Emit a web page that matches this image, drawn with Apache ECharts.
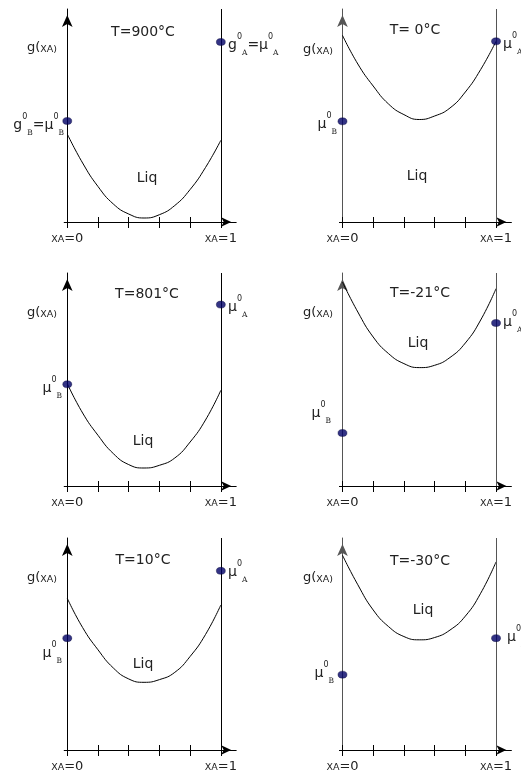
<!DOCTYPE html>
<html>
<head>
<meta charset="utf-8">
<script src="https://cdn.jsdelivr.net/npm/echarts@6/dist/echarts.min.js"></script>
<style>
    html, body { margin: 0; padding: 0; background: #fff; }
    #main { width: 521px; height: 773px; }
</style>
</head>
<body>
<div id="main"></div>
<script>
    // composition xA and g(xA), in pixels above the x axis
    var xA = [0, 0.1, 0.2, 0.3, 0.4, 0.5, 0.6, 0.7, 0.8, 0.9, 1];
    var gT900 = [88, 59, 35.5, 18, 8, 4, 7.3, 16.5, 32.5, 54.5, 81.7];
    var gT0 = [186.7, 158, 136, 118, 107.4, 102.5, 106, 114, 130, 152.5, 180.7];
    var gT801 = [102.4, 73, 50.7, 32.4, 21.4, 18, 20.7, 28, 44, 66, 95.7];
    var gTm21 = [204, 174, 149, 132.4, 122.4, 118.4, 120.7, 128.5, 143, 166, 197.4];
    var gT10 = [152.4, 123, 100.7, 82.4, 71.4, 68, 70.7, 78, 94, 116, 145.7];
    var gTm30 = [195.7, 166, 140.7, 124, 114, 110.7, 113, 120.5, 134.5, 157.5, 189];
    var curves = [gT900, gT0, gT801, gTm21, gT10, gTm30];

    var temps = ['T=900°C', 'T= 0°C', 'T=801°C', 'T=-21°C', 'T=10°C', 'T=-30°C'];
    // pure component values at xA=0 (B) and xA=1 (A)
    var muB = [101, 100.7, 101.7, 53, 112.4, 75.7];
    var muA = [180, 180.7, 181.4, 163, 180, 112.4];
    var tickVals = [0, 0.2, 0.4, 0.6, 0.8, 1];
    var endLabels = [0, 1];

    var FONT = 'DejaVu Sans';
    var SERIF = 'DejaVu Serif';
    var colLeft = [64.2, 339.4];
    var colWidth = 172;
    var rowTop = [9, 273, 538];
    var rowHeight = 213;
    var vLine = ['#000', '#555'];

    var richG = {
        t: {fontSize: 14, fontFamily: FONT, fill: '#222'},
        m: {fontSize: 13, fontFamily: FONT, fill: '#222', verticalAlign: 'bottom'},
        s: {fontSize: 9.5, fontFamily: FONT, fill: '#222', verticalAlign: 'bottom'},
        n: {fontSize: 14, fontFamily: FONT, fill: '#222', lineHeight: 24, verticalAlign: 'middle'},
        sp: {fontSize: 8, fontFamily: FONT, fill: '#222', verticalAlign: 'top', lineHeight: 22},
        sb: {fontSize: 7.5, fontFamily: SERIF, fill: '#222', verticalAlign: 'bottom', lineHeight: 4}
    };
    var richA = {
        n: {fontSize: 13, fontFamily: FONT, color: '#222', verticalAlign: 'bottom'},
        s: {fontSize: 9.5, fontFamily: FONT, color: '#222', verticalAlign: 'bottom'}
    };

    var gx = '{m|g(}{s|XA)}';
    function mu(c) { return '{n|μ}{sp|0}{sb|' + c + '}'; }
    function gmu(c) { return '{n|g}{sp|0}{sb|' + c + '}{n|=μ}{sp|0}{sb|' + c + '}'; }

    var notes = [
        ['{t|' + temps[0] + '}', 143, 32, 'center'],
        [gx, 27, 48, 'left'],
        [gmu('B'), 64, 125, 'right'],
        [gmu('A'), 228, 45, 'left'],
        ['{t|Liq}', 147, 178, 'center'],

        ['{t|' + temps[1] + '}', 415, 30, 'center'],
        [gx, 303, 50, 'left'],
        [mu('B'), 337, 124, 'right'],
        [mu('A'), 503, 44, 'left'],
        ['{t|Liq}', 417, 176, 'center'],

        ['{t|' + temps[2] + '}', 147, 294, 'center'],
        [gx, 27, 313, 'left'],
        [mu('B'), 62, 388, 'right'],
        [mu('A'), 228, 307, 'left'],
        ['{t|Liq}', 143, 441, 'center'],

        ['{t|' + temps[3] + '}', 420, 293, 'center'],
        [gx, 303, 313, 'left'],
        [mu('B'), 331, 413, 'right'],
        [mu('A'), 503, 322, 'left'],
        ['{t|Liq}', 418, 343, 'center'],

        ['{t|' + temps[4] + '}', 143, 560, 'center'],
        [gx, 27, 578, 'left'],
        [mu('B'), 62, 653, 'right'],
        [mu('A'), 228, 572, 'left'],
        ['{t|Liq}', 143, 664, 'center'],

        ['{t|' + temps[5] + '}', 420, 561, 'center'],
        [gx, 303, 578, 'left'],
        [mu('B'), 334, 673, 'right'],
        [mu('A'), 507, 637, 'left'],
        ['{t|Liq}', 423, 610, 'center']
    ];

    function pairs(xs, ys) {
        var out = [];
        for (var i = 0; i < xs.length; i++) {
            out.push([xs[i], ys[i]]);
        }
        return out;
    }

    var grid = [], xAxis = [], yAxis = [], series = [], graphic = [];
    for (var i = 0; i < 6; i++) {
        var col = i % 2, row = Math.floor(i / 2);
        grid.push({left: colLeft[col], top: rowTop[row], width: colWidth, height: rowHeight});
        xAxis.push({
            type: 'value', gridIndex: i, position: 'bottom', min: -0.02, max: 1.1,
            splitLine: {show: false},
            axisLine: {
                show: true, symbol: ['none', 'arrow'], symbolSize: [7, 10], symbolOffset: [0, -5],
                lineStyle: {color: '#000', width: 1}
            },
            axisTick: {show: true, inside: true, length: 5, customValues: tickVals, lineStyle: {color: '#000'}},
            axisLabel: {
                show: true, customValues: endLabels, margin: 10, rich: richA,
                formatter: function (v) { return '{s|XA}{n|=' + (v < 0.5 ? 0 : 1) + '}'; }
            }
        });
        xAxis.push({
            type: 'value', gridIndex: i, position: 'bottom', min: -0.02, max: 1.1,
            splitLine: {show: false},
            axisLine: {show: false},
            axisTick: {show: true, inside: false, length: 6, customValues: tickVals, lineStyle: {color: '#000'}},
            axisLabel: {show: false}
        });
        yAxis.push({
            type: 'value', gridIndex: i, position: 'left', min: 0, max: rowHeight,
            splitLine: {show: false}, axisTick: {show: false}, axisLabel: {show: false},
            axisLine: {
                show: true, onZero: true, symbol: ['none', 'arrow'], symbolSize: [8, 12], symbolOffset: [0, -6],
                lineStyle: {color: vLine[col], width: 1}
            }
        });
        series.push({
            type: 'line', xAxisIndex: 2 * i, yAxisIndex: i,
            data: pairs(xA, curves[i]), smooth: 0.5, showSymbol: false,
            lineStyle: {color: '#000', width: 1}, silent: true,
            markLine: {
                silent: true, symbol: ['none', 'none'], label: {show: false},
                lineStyle: {color: vLine[col], type: 'solid', width: 1},
                data: [{xAxis: 1}]
            }
        });
        series.push({
            type: 'scatter', xAxisIndex: 2 * i, yAxisIndex: i, z: 5,
            data: [[0, muB[i]], [1, muA[i]]], symbol: 'circle', symbolSize: [9, 7],
            itemStyle: {color: '#000066', borderColor: '#000033', borderWidth: 0.5}
        });
    }

    for (var k = 0; k < notes.length; k++) {
        graphic.push({
            type: 'text', x: notes[k][1], y: notes[k][2], silent: true,
            style: {
                text: notes[k][0], rich: richG, fill: '#222', font: '13px ' + FONT,
                align: notes[k][3], textAlign: notes[k][3],
                verticalAlign: 'middle', textVerticalAlign: 'middle'
            }
        });
    }

    var chart = echarts.init(document.getElementById('main'));
    chart.setOption({
        animation: false,
        backgroundColor: '#fff',
        textStyle: {fontFamily: FONT},
        grid: grid,
        xAxis: xAxis,
        yAxis: yAxis,
        series: series,
        graphic: graphic
    });
</script>
</body>
</html>
